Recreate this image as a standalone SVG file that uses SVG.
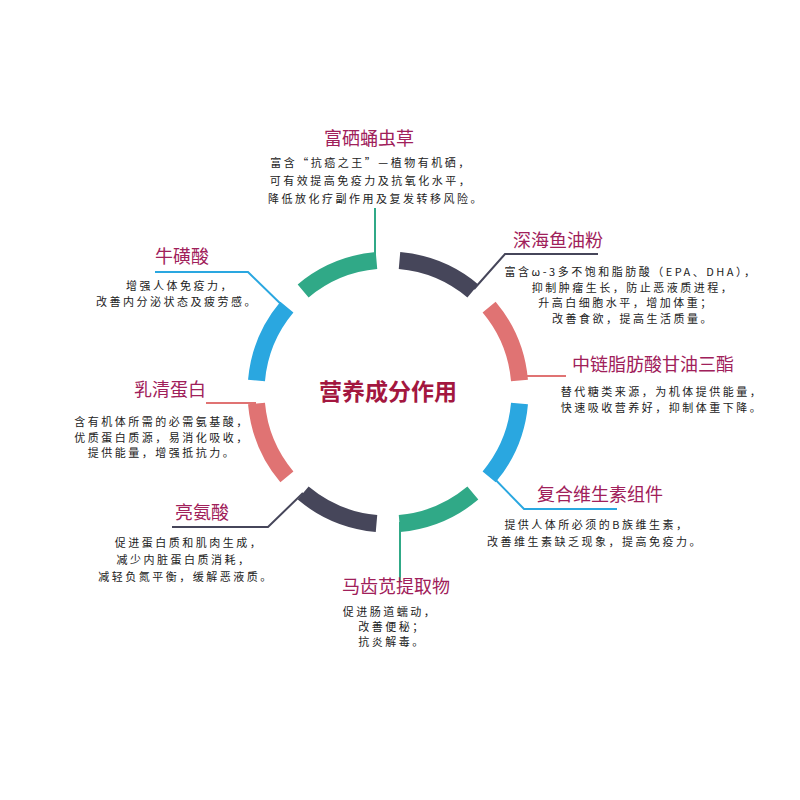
<svg xmlns="http://www.w3.org/2000/svg" width="800" height="800" viewBox="0 0 800 800">
<style>
.seg{fill:none;stroke-width:17;stroke-linecap:butt}
.con{fill:none;stroke-width:2}
.g{stroke:#30a987}.d{stroke:#46465a}.p{stroke:#e07373}.b{stroke:#2aa7e0}
.t{font-family:"Noto Sans CJK SC","Noto Sans",sans-serif;font-size:18px;fill:#a0205a;text-anchor:middle}
.x{font-family:"Noto Sans CJK SC","Noto Sans",sans-serif;font-size:11px;fill:#222;text-anchor:middle;letter-spacing:2.5px}
.c{font-family:"Noto Sans CJK SC","Noto Sans",sans-serif;font-size:23px;font-weight:bold;fill:#a3173f;text-anchor:middle}
</style>
<rect width="800" height="800" fill="#fff"/>
<g id="ring">
<path class="seg g" d="M303.15,290.89 A132,132 0 0 1 376.5,260.5"/>
<path class="seg d" d="M399.5,260.5 A132,132 0 0 1 472.85,290.89"/>
<path class="seg p" d="M489.11,307.15 A132,132 0 0 1 519.5,380.5"/>
<path class="seg b" d="M519.5,403.5 A132,132 0 0 1 489.11,476.85"/>
<path class="seg g" d="M472.85,493.11 A132,132 0 0 1 399.5,523.5"/>
<path class="seg d" d="M376.5,523.5 A132,132 0 0 1 303.15,493.11"/>
<path class="seg p" d="M286.89,476.85 A132,132 0 0 1 256.5,403.5"/>
<path class="seg b" d="M256.5,380.5 A132,132 0 0 1 286.89,307.15"/>
</g>
<g id="connectors">
<path class="con g" d="M375,256 V208"/>
<path class="con d" d="M474,289 L505,254 H598"/>
<path class="con p" d="M522,376 H566"/>
<path class="con b" d="M486,470 L524,509 H617"/>
<path class="con g" d="M400,522 V582"/>
<path class="con d" d="M303,493 L268,527 H172"/>
<path class="con p" d="M256,403 H206"/>
<path class="con b" d="M287,310 L248,272 H155"/>
</g>
<g id="center"><text class="c" x="388" y="400">营养成分作用</text></g>
<g id="n1">
<text class="t" x="369" y="145">富硒蛹虫草</text>
<text class="x" x="371" y="167">富含“抗癌之王”—植物有机硒，</text>
<text class="x" x="371" y="185">可有效提高免疫力及抗氧化水平，</text>
<text class="x" x="376" y="203">降低放化疗副作用及复发转移风险。</text>
</g>
<g id="n2">
<text class="t" x="558" y="247">深海鱼油粉</text>
<text class="x" x="631" y="276">富含ω-3多不饱和脂肪酸（EPA、DHA），</text>
<text class="x" x="633" y="292">抑制肿瘤生长，防止恶液质进程，</text>
<text class="x" x="626" y="307">升高白细胞水平，增加体重；</text>
<text class="x" x="633" y="323">改善食欲，提高生活质量。</text>
</g>
<g id="n3">
<text class="t" x="653" y="371">中链脂肪酸甘油三酯</text>
<text class="x" x="662" y="396">替代糖类来源，为机体提供能量，</text>
<text class="x" x="662" y="412">快速吸收营养好，抑制体重下降。</text>
</g>
<g id="n4">
<text class="t" x="600" y="501">复合维生素组件</text>
<text class="x" x="597" y="529">提供人体所必须的B族维生素，</text>
<text class="x" x="595" y="546">改善维生素缺乏现象，提高免疫力。</text>
</g>
<g id="n5">
<text class="t" x="396" y="593">马齿苋提取物</text>
<text class="x" x="390" y="616">促进肠道蠕动，</text>
<text class="x" x="392" y="631">改善便秘；</text>
<text class="x" x="392" y="646">抗炎解毒。</text>
</g>
<g id="n6">
<text class="t" x="202" y="519">亮氨酸</text>
<text class="x" x="189" y="547">促进蛋白质和肌肉生成，</text>
<text class="x" x="184" y="564">减少内脏蛋白质消耗，</text>
<text class="x" x="186" y="581">减轻负氮平衡，缓解恶液质。</text>
</g>
<g id="n7">
<text class="t" x="170" y="396">乳清蛋白</text>
<text class="x" x="162" y="426">含有机体所需的必需氨基酸，</text>
<text class="x" x="162" y="442">优质蛋白质源，易消化吸收，</text>
<text class="x" x="162" y="457">提供能量，增强抵抗力。</text>
</g>
<g id="n8">
<text class="t" x="182" y="263">牛磺酸</text>
<text class="x" x="180" y="290">增强人体免疫力，</text>
<text class="x" x="177" y="306">改善内分泌状态及疲劳感。</text>
</g>
</svg>
